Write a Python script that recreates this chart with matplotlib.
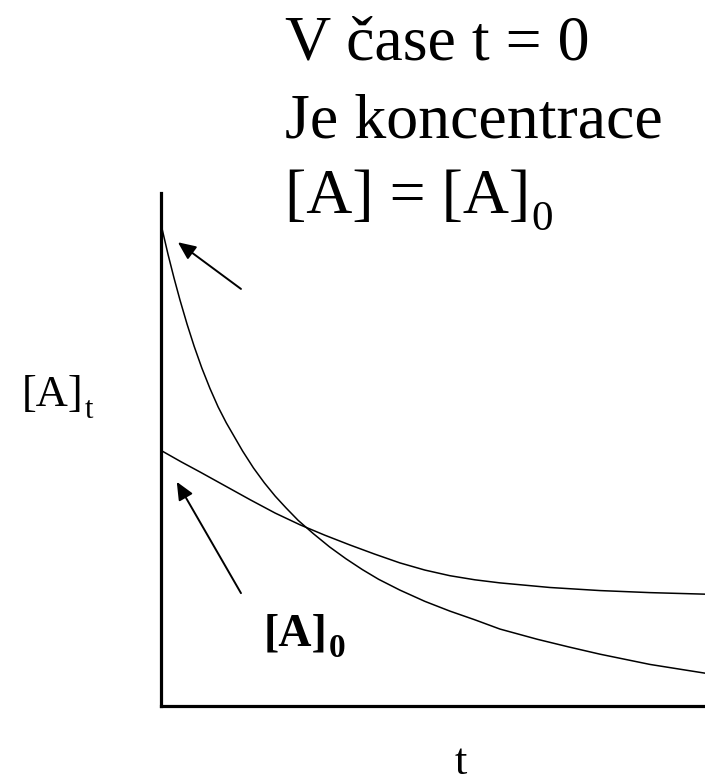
import matplotlib
matplotlib.use("Agg")
import matplotlib.pyplot as plt

plt.rcParams["font.family"] = ["Liberation Serif", "DejaVu Serif"]

# curves (t, [A]) in arbitrary units
t_fast = [0.02, 0.13, 0.24, 0.35, 0.48, 0.61, 0.75, 0.90, 1.05, 1.20, 1.32,
          1.50, 1.70, 1.90, 2.10, 2.30, 2.52, 2.80, 3.10, 3.40, 3.70, 4.00,
          4.39, 4.85, 5.31, 5.77, 6.23, 6.92, 7.50, 8.07, 8.99, 10.0]
a_fast = [9.30, 8.80, 8.34, 7.91, 7.44, 7.01, 6.59, 6.19, 5.83, 5.52, 5.30,
          4.97, 4.64, 4.35, 4.09, 3.86, 3.62, 3.36, 3.10, 2.87, 2.66, 2.47,
          2.26, 2.04, 1.85, 1.68, 1.50, 1.30, 1.15, 1.01, 0.81, 0.64]

t_slow = [0.02, 0.37, 0.72, 1.18, 1.64, 2.10, 2.56, 3.01, 3.47, 3.93, 4.39,
          4.85, 5.31, 5.77, 6.23, 7.15, 8.07, 8.99, 10.0]
a_slow = [4.97, 4.76, 4.56, 4.29, 4.02, 3.76, 3.53, 3.33, 3.14, 2.96, 2.79,
          2.65, 2.54, 2.46, 2.40, 2.31, 2.25, 2.21, 2.18]

# arrows: (tail, head)
arrow_tails = [(1.47, 8.13), (1.47, 2.20)]
arrow_heads = [(0.31, 9.04), (0.29, 4.37)]

W, H = 705, 782
fig = plt.figure(figsize=(W / 100, H / 100), dpi=100)
ax = fig.add_axes([161 / W, 1 - 706 / H, 544 / W, 513 / H])

ax.plot(t_fast, a_fast, color="black", lw=1.1)
ax.plot(t_slow, a_slow, color="black", lw=1.1)

for tail, head in zip(arrow_tails, arrow_heads):
    ax.annotate("", xy=head, xytext=tail,
                arrowprops=dict(arrowstyle="-|>,head_length=0.9,head_width=0.4",
                                mutation_scale=12, color="black", lw=1.4,
                                shrinkA=0, shrinkB=0))

ax.set_xlim(0, 10)
ax.set_ylim(0, 10)
ax.set_xticks([])
ax.set_yticks([])
for side in ["top", "right"]:
    ax.spines[side].set_visible(False)
for side in ["left", "bottom"]:
    ax.spines[side].set_linewidth(2.3)
    ax.spines[side].set_capstyle("projecting")

renderer = fig.canvas.get_renderer()


def ftext(px, py, s, **kw):
    return fig.text(px / W, 1 - py / H, s, va="baseline", **kw)


def sub_text(px, py, main, sub, size, subsize, drop, weight="normal"):
    t = ftext(px, py, main, fontsize=size, fontweight=weight)
    bb = t.get_window_extent(renderer)
    fig.text((bb.x1 + 1) / W, 1 - (py + drop) / H, sub, va="baseline",
             fontsize=subsize, fontweight=weight)


ftext(285, 59, "V čase t = 0", fontsize=46)
ftext(285, 137, "Je koncentrace", fontsize=46)
sub_text(285, 213, "[A] = [A]", "0", 46, 31, 17)
sub_text(22, 406, "[A]", "t", 32, 22, 12)
sub_text(264, 645, "[A]", "0", 33, 24, 12, weight="bold")
ftext(461, 774, "t", fontsize=32, ha="center")

fig.savefig("out.png", dpi=100)
